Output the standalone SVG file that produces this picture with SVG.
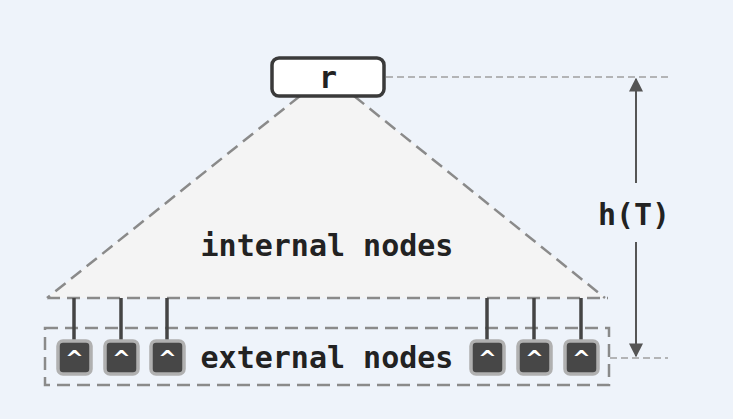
<svg xmlns="http://www.w3.org/2000/svg" width="733" height="419" viewBox="0 0 733 419">
  <style>
    .lbl { font-family: "DejaVu Sans Mono", "Liberation Mono", monospace; font-weight: bold; font-size: 30px; fill: #222; }
    .dash { fill: none; stroke: #8a8a8a; stroke-width: 2.5; stroke-dasharray: 13 7; }
    .guide { fill: none; stroke: #a0a0a0; stroke-width: 1.5; stroke-dasharray: 7 4; }
    .stem { stroke: #444; stroke-width: 3.5; }
    .leaf { fill: #474747; stroke: #b0b0b0; stroke-width: 3.5; }
    .caret { font-family: "DejaVu Sans", sans-serif; font-weight: bold; font-size: 22px; fill: #fff; }
  </style>
  <defs>
    <marker id="arr" viewBox="0 0 10 10" refX="9" refY="5" markerWidth="7" markerHeight="7" orient="auto-start-reverse">
      <path d="M0,0 L10,5 L0,10 z" fill="#555"/>
    </marker>
  </defs>
  <rect width="733" height="419" fill="#eef3fa"/>

  <!-- internal part of the tree -->
  <g id="internal">
    <polygon points="300,96 354,96 605,298 47,298" fill="#f4f4f4" stroke="none"/>
    <path class="dash" d="M300,96 L47,298 M354,96 L605,298 M47,298 L608,298"/>
    <text class="lbl" x="327" y="256" text-anchor="middle">internal nodes</text>
  </g>

  <!-- root -->
  <g id="root">
    <rect x="272" y="58" width="112" height="38" rx="7" fill="#fff" stroke="#3a3a3a" stroke-width="3.5"/>
    <text class="lbl" x="328" y="88" text-anchor="middle">r</text>
  </g>

  <!-- external part -->
  <g id="external">
    <rect class="dash" x="45" y="328" width="564" height="57"/>
    <text class="lbl" x="327" y="368" text-anchor="middle">external nodes</text>
  </g>

  <g id="connectors">
    <line class="stem" x1="74" y1="298" x2="74" y2="341"/>
    <line class="stem" x1="121" y1="298" x2="121" y2="341"/>
    <line class="stem" x1="167" y1="298" x2="167" y2="341"/>
    <line class="stem" x1="487" y1="298" x2="487" y2="341"/>
    <line class="stem" x1="534" y1="298" x2="534" y2="341"/>
    <line class="stem" x1="581" y1="298" x2="581" y2="341"/>
  </g>

  <g id="leaf1"><rect class="leaf" x="58" y="341" width="33" height="33" rx="5"/><text class="caret" x="74.5" y="366" text-anchor="middle">^</text></g>
  <g id="leaf2"><rect class="leaf" x="105" y="341" width="33" height="33" rx="5"/><text class="caret" x="121.5" y="366" text-anchor="middle">^</text></g>
  <g id="leaf3"><rect class="leaf" x="151" y="341" width="33" height="33" rx="5"/><text class="caret" x="167.5" y="366" text-anchor="middle">^</text></g>
  <g id="leaf4"><rect class="leaf" x="471" y="341" width="33" height="33" rx="5"/><text class="caret" x="487.5" y="366" text-anchor="middle">^</text></g>
  <g id="leaf5"><rect class="leaf" x="518" y="341" width="33" height="33" rx="5"/><text class="caret" x="534.5" y="366" text-anchor="middle">^</text></g>
  <g id="leaf6"><rect class="leaf" x="565" y="341" width="33" height="33" rx="5"/><text class="caret" x="581.5" y="366" text-anchor="middle">^</text></g>

  <!-- height dimension -->
  <g id="height">
    <path class="guide" d="M386,77 L668,77 M610,358 L668,358"/>
    <line x1="636" y1="183" x2="636" y2="79" stroke="#555" stroke-width="2" marker-end="url(#arr)"/>
    <line x1="636" y1="242" x2="636" y2="356" stroke="#555" stroke-width="2" marker-end="url(#arr)"/>
    <text class="lbl" x="634" y="225" text-anchor="middle">h(T)</text>
  </g>
</svg>
